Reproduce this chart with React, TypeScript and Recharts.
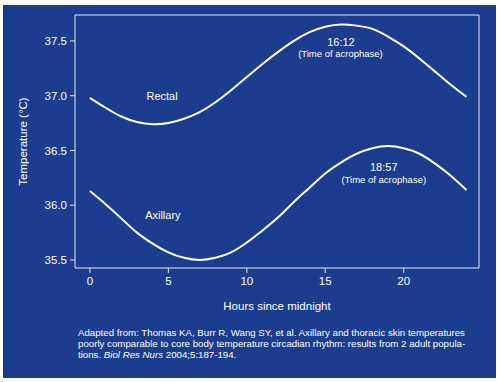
import {
  LineChart,
  Line,
  XAxis,
  YAxis,
  ReferenceArea,
  ReferenceDot,
} from "recharts";

const hours = [0, 1, 2, 3, 4, 5, 6, 7, 8, 9, 10, 11, 12, 13, 14, 15, 16, 17, 18, 19, 20, 21, 22, 23, 24];

const rectal = [
  36.98, 36.89, 36.81, 36.76, 36.74, 36.75, 36.79, 36.85, 36.94, 37.05, 37.17, 37.29, 37.4,
  37.5, 37.58, 37.63, 37.65, 37.64, 37.61, 37.54, 37.45, 37.34, 37.22, 37.1, 36.99,
];

const axillary = [
  36.13, 36.01, 35.88, 35.75, 35.65, 35.57, 35.52, 35.5, 35.52, 35.57, 35.66, 35.77, 35.89,
  36.03, 36.16, 36.29, 36.39, 36.47, 36.52, 36.54, 36.52, 36.47, 36.38, 36.27, 36.14,
];

const xTicks = [0, 5, 10, 15, 20];
const yTicks = [35.5, 36.0, 36.5, 37.0, 37.5];

const xDomain: [number, number] = [-0.95, 24.8];
const yDomain: [number, number] = [35.427, 37.737];

const data = hours.map((hour, i) => ({ hour, rectal: rectal[i], axillary: axillary[i] }));

const BLUE = "#1b3c8f";
const FRAME = "#e4e8f2";
const font = "'Liberation Sans', Arial, sans-serif";

const lbl = (value: string, size: number) => ({
  value,
  position: "center" as const,
  fill: "#fff",
  fontSize: size,
  fontFamily: font,
});

export default function App() {
  return (
    <div style={{ position: "absolute", left: 0, top: 0, width: 500, height: 382, background: "#fff" }}>
      <div style={{ position: "absolute", left: 3, top: 5, width: 493, height: 373, background: BLUE }} />
      <div style={{ position: "absolute", left: 0, top: 0 }}>
        <LineChart
          width={500}
          height={382}
          data={data}
          margin={{ top: 15, right: 21, left: 15, bottom: 69 }}
          style={{ fontFamily: font }}
        >
          <XAxis
            dataKey="hour"
            type="number"
            domain={xDomain}
            allowDataOverflow
            ticks={xTicks}
            height={45}
            axisLine={false}
            tickLine={{ stroke: FRAME }}
            tickSize={5}
            tickMargin={4}
            tick={{ fill: "#fff", fontSize: 11.5 }}
            label={{
              value: "Hours since midnight",
              position: "insideBottom",
              offset: 3.5,
              fill: "#fff",
              fontSize: 11.5,
            }}
          />
          <YAxis
            type="number"
            domain={yDomain}
            allowDataOverflow
            ticks={yTicks}
            width={60}
            axisLine={false}
            tickLine={{ stroke: FRAME }}
            tickSize={5}
            tickMargin={3}
            tickFormatter={(v: number) => v.toFixed(1)}
            tick={{ fill: "#fff", fontSize: 11.5 }}
            label={{
              value: "Temperature (°C)",
              angle: -90,
              position: "insideLeft",
              offset: 8,
              fill: "#fff",
              fontSize: 11.5,
              style: { textAnchor: "middle" },
            }}
          />
          <ReferenceArea
            x1={xDomain[0]}
            x2={xDomain[1]}
            y1={yDomain[0]}
            y2={yDomain[1]}
            fill="none"
            stroke={FRAME}
            strokeWidth={1}
          />
          <Line
            type="natural"
            dataKey="rectal"
            stroke="#fff"
            strokeWidth={2}
            dot={false}
            isAnimationActive={false}
          />
          <Line
            type="natural"
            dataKey="axillary"
            stroke="#fff"
            strokeWidth={2}
            dot={false}
            isAnimationActive={false}
          />
          <ReferenceDot x={4.6} y={37.0} r={0} stroke="none" fill="none" label={lbl("Rectal", 11)} />
          <ReferenceDot x={4.65} y={35.91} r={0} stroke="none" fill="none" label={lbl("Axillary", 11)} />
          <ReferenceDot x={16.0} y={37.49} r={0} stroke="none" fill="none" label={lbl("16:12", 11)} />
          <ReferenceDot x={15.97} y={37.38} r={0} stroke="none" fill="none" label={lbl("(Time of acrophase)", 9.5)} />
          <ReferenceDot x={18.73} y={36.35} r={0} stroke="none" fill="none" label={lbl("18:57", 11)} />
          <ReferenceDot x={18.73} y={36.23} r={0} stroke="none" fill="none" label={lbl("(Time of acrophase)", 9.5)} />
        </LineChart>
      </div>
      <div
        style={{
          position: "absolute",
          left: 78,
          top: 327,
          fontFamily: font,
          fontSize: 9.7,
          lineHeight: "11px",
          color: "#fff",
          whiteSpace: "nowrap",
        }}
      >
        Adapted from: Thomas KA, Burr R, Wang SY, et al. Axillary and thoracic skin temperatures
        <br />
        poorly comparable to core body temperature circadian rhythm: results from 2 adult popula-
        <br />
        tions. <i>Biol Res Nurs</i> 2004;5:187-194.
      </div>
    </div>
  );
}
